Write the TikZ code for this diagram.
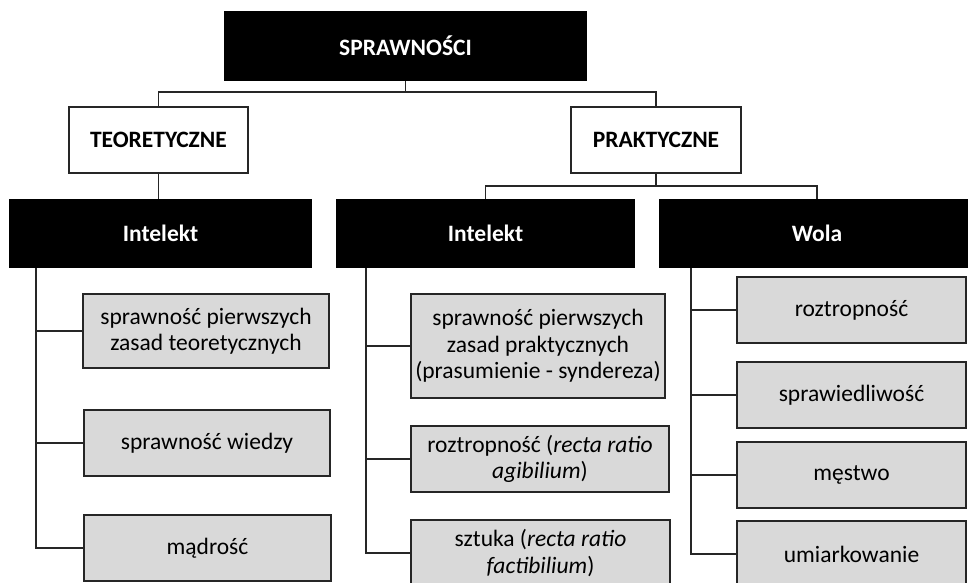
\documentclass[tikz,border=0pt]{standalone}
\usepackage{fontspec}
\setmainfont{Carlito}
\begin{document}
\begin{tikzpicture}[x=1pt, y=-1pt, line width=1.6pt, draw=black!85,
    every node/.style={inner sep=0pt, align=center, font=\fontsize{23.5}{26.5}\selectfont},
    headbox/.style={draw=black, fill=black, text=white, font=\fontsize{23.5}{26.5}\selectfont\bfseries},
    catbox/.style={draw=black!85, fill=white, font=\fontsize{23.5}{26.5}\selectfont\bfseries},
    itembox/.style={draw=black!85, fill=gray!30, minimum height=66pt}]
  \useasboundingbox (0,0) rectangle (968,582);
  \clip (0,0) rectangle (968,582);
  % naglowki
  \node[headbox, minimum width=361pt, minimum height=68pt] (spr) at (405.5,46) {SPRAWNOŚCI};
  \node[catbox, minimum width=179pt, minimum height=66pt] (teo) at (158.5,140) {TEORETYCZNE};
  \node[catbox, minimum width=170pt, minimum height=66pt] (pra) at (656,140) {PRAKTYCZNE};
  \node[headbox, minimum width=301pt, minimum height=67pt] (int1) at (160.5,233.5) {Intelekt};
  \node[headbox, minimum width=297pt, minimum height=67pt] (int2) at (485.5,233.5) {Intelekt};
  \node[headbox, minimum width=314pt, minimum height=67pt] (wola) at (817,233.5) {Wola};
  % lewa kolumna
  \node[itembox, minimum width=246pt, minimum height=74pt] (L1) at (206,331) {sprawność pierwszych\\zasad teoretycznych};
  \node[itembox, minimum width=246pt] (L2) at (207,443) {sprawność wiedzy};
  \node[itembox, minimum width=247pt] (L3) at (207.5,548) {mądrość};
  % srodkowa kolumna
  \node[itembox, minimum width=254pt, minimum height=104pt] (M1) at (538,346) {sprawność pierwszych\\zasad praktycznych\\(prasumienie - syndereza)};
  \node[itembox, minimum width=258pt] (M2) at (540,459) {roztropność (\textit{recta ratio}\\\textit{agibilium})};
  \node[itembox, minimum width=259pt] (M3) at (540.5,553) {sztuka (\textit{recta ratio}\\\textit{factibilium})};
  % prawa kolumna
  \foreach \n/\y/\t in {R1/310/roztropność, R2/395/sprawiedliwość, R3/475/męstwo, R4/554/umiarkowanie}
    \node[itembox, minimum width=229pt] (\n) at (851.5,\y) {\t};
  % polaczenia
  \coordinate (j1) at (405.5,92);
  \coordinate (j2) at (656,186);
  \draw (spr.south) -- (j1);
  \draw (teo.north) |- (j1) -| (pra.north);
  \draw (teo.south) -- (teo.south |- int1.north);
  \draw (pra.south) -- (j2);
  \draw (int2.north) |- (j2) -| (wola.north);
  \coordinate (t1) at ([xshift=27pt]int1.south west);
  \coordinate (t2) at ([xshift=30pt]int2.south west);
  \coordinate (t3) at ([xshift=32pt]wola.south west);
  \draw (t1) |- (L3.west);
  \foreach \n in {L1,L2} \draw (\n.west) -- (\n.west -| t1);
  \draw (t2) |- (M3.west);
  \foreach \n in {M1,M2} \draw (\n.west) -- (\n.west -| t2);
  \draw (t3) |- (R4.west);
  \foreach \n in {R1,R2,R3} \draw (\n.west) -- (\n.west -| t3);
\end{tikzpicture}
\end{document}
